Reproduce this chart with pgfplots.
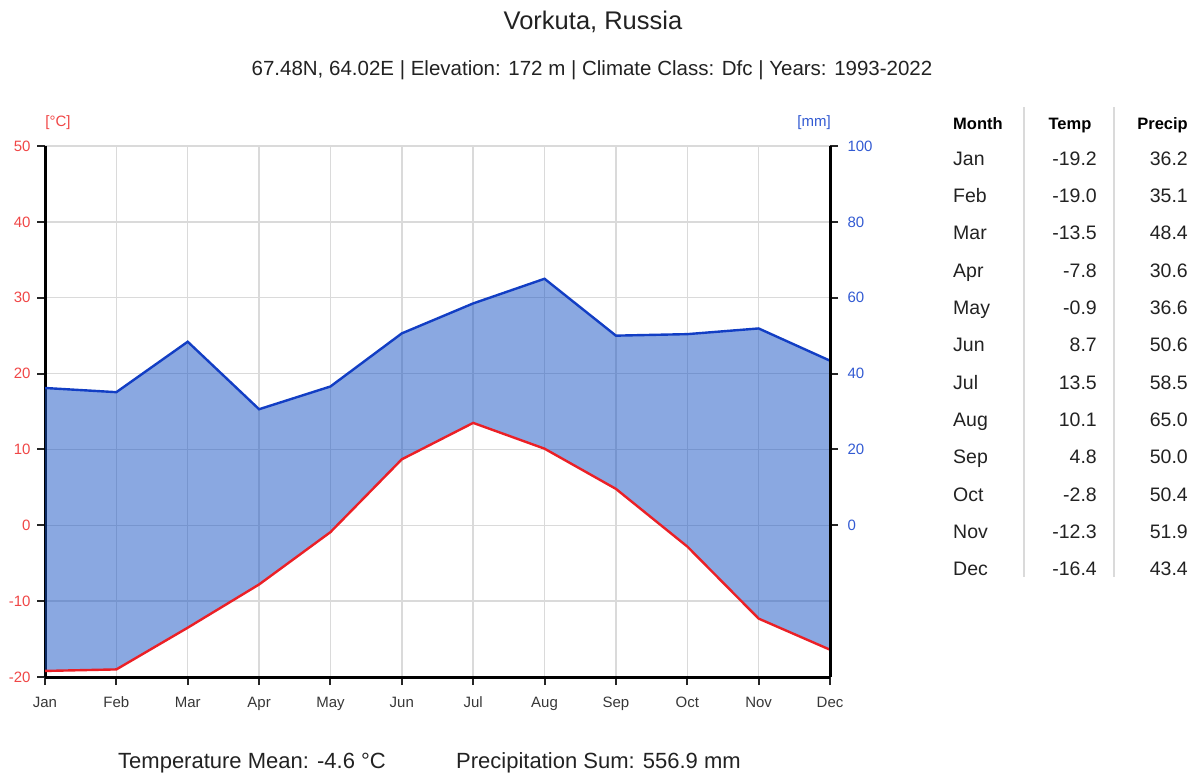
\documentclass[border=0pt]{standalone}
\usepackage{fontspec}
\setmainfont{Liberation Sans}
\usepackage{pgfplots}
\pgfplotsset{compat=1.18}
\usepgfplotslibrary{fillbetween}
\usepackage{pgfplotstable}

\pgfplotstableread{
m temp precip
0 -19.2 36.2
1 -19.0 35.1
2 -13.5 48.4
3 -7.8 30.6
4 -0.9 36.6
5 8.7 50.6
6 13.5 58.5
7 10.1 65.0
8 4.8 50.0
9 -2.8 50.4
10 -12.3 51.9
11 -16.4 43.4
}\climate

\definecolor{tred}{RGB}{235,32,38}
\definecolor{pblue}{RGB}{18,62,196}
\definecolor{pfill}{RGB}{22,82,196}
\definecolor{lblred}{RGB}{240,70,70}
\definecolor{lblblue}{RGB}{50,90,210}
\definecolor{gridgray}{RGB}{218,218,218}
\definecolor{txt}{RGB}{34,34,34}
\definecolor{ticktxt}{RGB}{55,55,55}

\newcommand\fs[1]{\fontsize{#1}{#1}\selectfont}

\begin{document}
\begin{tikzpicture}
\path (0pt,0pt) rectangle (1199pt,-772pt);

\begin{axis}[
  at={(45pt,-677pt)}, anchor=south west,
  width=785pt, height=531pt, scale only axis,
  xmin=0, xmax=11, ymin=-20, ymax=50,
  axis x line*=bottom, axis y line*=left,
  xtick={0,...,11},
  xticklabels={Jan,Feb,Mar,Apr,May,Jun,Jul,Aug,Sep,Oct,Nov,Dec},
  ytick={-20,-10,...,50},
  grid=major, grid style={gridgray, line width=1.4pt},
  axis line style={black, line width=3pt},
  tick style={black!85, line width=2pt},
  major tick length=8pt, tick align=outside,
  ticklabel style={font=\fs{15}},
  yticklabel style={text=lblred, xshift=-3pt},
  xticklabel style={text=ticktxt, text height=11pt, text depth=3pt, yshift=-8pt},
  /pgf/number format/assume math mode=true,
]
\addplot[name path=P, draw=none] table[x=m, y expr=\thisrow{precip}/2] {\climate};
\addplot[name path=T, draw=none] table[x=m, y=temp] {\climate};
\addplot[fill=pfill, fill opacity=0.5, draw=none] fill between[of=P and T];
\addplot[pblue, line width=2.4pt] table[x=m, y expr=\thisrow{precip}/2] {\climate};
\addplot[tred, line width=2.4pt] table[x=m, y=temp] {\climate};
\end{axis}

\begin{axis}[
  at={(45pt,-677pt)}, anchor=south west,
  width=785pt, height=531pt, scale only axis,
  xmin=0, xmax=11, ymin=-40, ymax=100,
  axis x line=none, axis y line*=right,
  ytick={0,20,...,100},
  axis line style={black, line width=3pt},
  tick style={black!85, line width=2pt},
  major tick length=8pt, tick align=outside,
  yticklabel style={text=lblblue, font=\fs{15}, xshift=6pt},
  /pgf/number format/assume math mode=true,
]
\addplot[draw=none] coordinates {(0,0) (11,100)};
\end{axis}

\node[text=lblred, font=\fs{15}] at (58pt,-123pt) {[°C]};
\node[text=lblblue, font=\fs{15}] at (814pt,-123pt) {[mm]};

\node[anchor=base, text=txt, font=\fs{25.5}] at (593pt,-29pt) {Vorkuta, Russia};
\node[anchor=base, text=txt, font=\fs{20.5}] at (592pt,-75pt) {67.48N, 64.02E | Elevation: 172 m | Climate Class: Dfc | Years: 1993-2022};

\node[anchor=base west, text=txt, font=\fs{22}, inner sep=0pt] at (118pt,-768pt) {Temperature Mean: -4.6 °C};
\node[anchor=base west, text=txt, font=\fs{22}, inner sep=0pt] at (456pt,-768pt) {Precipitation Sum: 556.9 mm};

% table
\draw[gridgray, line width=1.2pt] (1024pt,-107pt) -- (1024pt,-577pt);
\draw[gridgray, line width=1.2pt] (1114pt,-107pt) -- (1114pt,-577pt);
\node[anchor=base west, font=\fs{16.5}\bfseries, text=black, inner sep=0pt] at (953pt,-129pt) {Month};
\node[anchor=base, font=\fs{16.5}\bfseries, text=black, inner sep=0pt] at (1070pt,-129pt) {Temp};
\node[anchor=base east, font=\fs{16.5}\bfseries, text=black, inner sep=0pt] at (1188pt,-129pt) {Precip};
\foreach \mon/\t/\p [count=\i from 0] in {Jan/-19.2/36.2, Feb/-19.0/35.1, Mar/-13.5/48.4, Apr/-7.8/30.6, May/-0.9/36.6, Jun/8.7/50.6, Jul/13.5/58.5, Aug/10.1/65.0, Sep/4.8/50.0, Oct/-2.8/50.4, Nov/-12.3/51.9, Dec/-16.4/43.4} {
  \pgfmathsetmacro\yy{-(158+7+37.35*\i)}
  \node[anchor=base west, font=\fs{19.5}, text=txt, inner sep=0pt] at (953pt,\yy pt) {\mon};
  \node[anchor=base east, font=\fs{19.5}, text=txt, inner sep=0pt] at (1097pt,\yy pt) {\t};
  \node[anchor=base east, font=\fs{19.5}, text=txt, inner sep=0pt] at (1188pt,\yy pt) {\p};
}
\end{tikzpicture}
\end{document}
